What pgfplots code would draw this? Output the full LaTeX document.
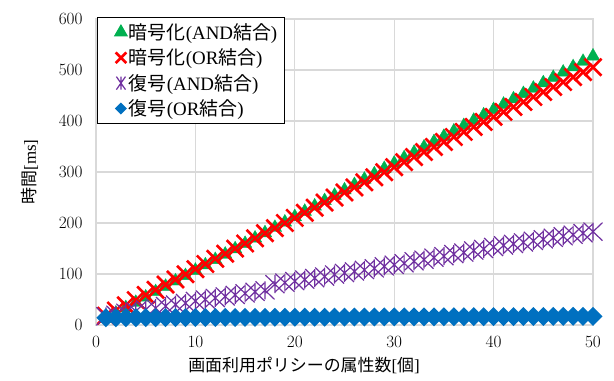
\documentclass[border=0pt]{standalone}
\usepackage{fontspec}
\setmainfont{Liberation Serif}
\newfontfamily\jp{Noto Sans CJK JP}
\usepackage{pgfplots}
\pgfplotsset{compat=1.18}
\usepackage{pgfplotstable}
\definecolor{cg}{HTML}{00B050}
\definecolor{cr}{HTML}{FF0000}
\definecolor{cp}{HTML}{7030A0}
\definecolor{cb}{HTML}{0070C0}
\definecolor{gridc}{HTML}{D9D9D9}
\pgfdeclareplotmark{xstar}{%
  \pgfpathmoveto{\pgfqpoint{-\pgfplotmarksize}{-0.95\pgfplotmarksize}}%
  \pgfpathlineto{\pgfqpoint{\pgfplotmarksize}{0.95\pgfplotmarksize}}%
  \pgfpathmoveto{\pgfqpoint{-\pgfplotmarksize}{0.95\pgfplotmarksize}}%
  \pgfpathlineto{\pgfqpoint{\pgfplotmarksize}{-0.95\pgfplotmarksize}}%
  \pgfpathmoveto{\pgfqpoint{0pt}{-0.95\pgfplotmarksize}}%
  \pgfpathlineto{\pgfqpoint{0pt}{0.95\pgfplotmarksize}}%
  \pgfusepathqstroke}
\pgfdeclareplotmark{xstarleg}{%
  \pgfpathmoveto{\pgfqpoint{-0.7\pgfplotmarksize}{-\pgfplotmarksize}}%
  \pgfpathlineto{\pgfqpoint{0.7\pgfplotmarksize}{\pgfplotmarksize}}%
  \pgfpathmoveto{\pgfqpoint{-0.7\pgfplotmarksize}{\pgfplotmarksize}}%
  \pgfpathlineto{\pgfqpoint{0.7\pgfplotmarksize}{-\pgfplotmarksize}}%
  \pgfpathmoveto{\pgfqpoint{0pt}{-\pgfplotmarksize}}%
  \pgfpathlineto{\pgfqpoint{0pt}{\pgfplotmarksize}}%
  \pgfusepathqstroke}
\pgfdeclareplotmark{dia}{%
  \pgfpathmoveto{\pgfqpoint{0pt}{\pgfplotmarksize}}%
  \pgfpathlineto{\pgfqpoint{\pgfplotmarksize}{0pt}}%
  \pgfpathlineto{\pgfqpoint{0pt}{-\pgfplotmarksize}}%
  \pgfpathlineto{\pgfqpoint{-\pgfplotmarksize}{0pt}}%
  \pgfpathclose
  \pgfusepathqfill}
\pgfplotstableread{
x g r p b
1 12.5 18.2 17 14.1
2 23.0 28.4 20 14.1
3 33.5 38.6 24 14.2
4 44.0 48.7 27 14.2
5 54.5 58.9 30 14.3
6 65.0 69.0 33 14.4
7 75.5 79.2 37 14.4
8 86.0 89.3 40 14.5
9 96.5 99.4 43 14.5
10 107.0 109.5 47 14.6
11 117.5 119.6 50 14.7
12 128.0 129.7 53 14.7
13 138.5 139.8 56 14.8
14 149.0 149.8 59 14.8
15 159.5 159.9 62 14.9
16 170.0 169.9 65 15.0
17 180.5 180.0 68 15.0
18 191.0 190.0 80 15.1
19 201.5 200.0 83 15.1
20 212.0 210.0 86 15.2
21 222.5 220.0 89 15.3
22 233.0 230.0 92 15.3
23 243.5 240.0 95 15.4
24 254.0 249.9 99 15.4
25 264.5 259.9 102 15.5
26 275.0 269.8 105 15.6
27 285.5 279.8 108 15.6
28 296.0 289.7 111 15.7
29 306.5 299.6 115 15.7
30 317.0 309.5 118 15.8
31 327.5 319.4 121 15.9
32 338.0 329.3 125 15.9
33 348.5 339.2 128 16.0
34 359.0 349.0 132 16.0
35 369.5 358.9 135 16.1
36 380.0 368.7 139 16.2
37 390.5 378.6 142 16.2
38 401.0 388.4 146 16.3
39 411.5 398.2 149 16.3
40 422.0 408.0 153 16.4
41 432.5 417.8 156 16.5
42 443.0 427.6 159 16.5
43 453.5 437.4 162 16.6
44 464.0 447.1 165 16.6
45 474.5 456.9 168 16.7
46 485.0 466.6 171 16.8
47 495.5 476.4 174 16.8
48 506.0 486.1 177 16.9
49 516.5 495.8 180 16.9
50 527.0 505.5 183 17.0
}\data
\begin{document}
\begin{tikzpicture}
\begin{axis}[
  scale only axis,
  width=497bp, height=306bp,
  xmin=0, xmax=50, ymin=0, ymax=600,
  xtick={0,10,20,30,40,50},
  ytick={0,100,...,600},
  major tick length=0pt,
  grid=major,
  major grid style={gridc, line width=1.3bp},
  axis line style={gridc, line width=1.3bp},
  tick label style={font=\fontsize{17}{20}\selectfont},
  xticklabel style={yshift=-8bp},
  yticklabel style={xshift=-10bp},
  xlabel={{\jp 画面利用ポリシーの属性数}[{\jp 個}]},
  ylabel={{\jp 時間}[ms]},
  label style={font=\fontsize{17}{20}\selectfont},
  xlabel style={at={([yshift=-40bp]axis description cs:0.4185,0)}, anchor=center},
  ylabel style={at={([xshift=-66bp]axis description cs:0,0.5)}, anchor=center},
  legend image code/.code={%
    \draw[#1] plot coordinates {(0bp,0bp)};
    \path (-17bp,0bp) (3bp,0bp);},
  legend style={at={(0.002,1.0065)}, anchor=north west, draw=black, line width=1.3bp,
    font=\fontsize{19}{22}\selectfont, cells={anchor=west}, row sep=4bp,
    inner xsep=5bp, inner ysep=4bp, fill=white},
  legend cell align=left,
]
\addplot[only marks, mark=triangle*, mark size=7.8bp, color=cg,
  legend image post style={mark size=7bp}] table[x=x,y=g]{\data};
\addlegendentry{{\jp 暗号化}(AND{\jp 結合})}
\addplot[only marks, mark=x, mark size=12bp, color=cr, line width=2.6bp,
  legend image post style={mark size=7.5bp}] table[x=x,y=r]{\data};
\addlegendentry{{\jp 暗号化}(OR{\jp 結合})}
\addplot[only marks, mark=xstar, mark size=9.5bp, color=cp, line width=1.2bp,
  legend image post style={mark=xstarleg, mark size=6.5bp}] table[x=x,y=p]{\data};
\addlegendentry{{\jp 復号}(AND{\jp 結合})}
\addplot[only marks, mark=dia, mark size=9.5bp, color=cb,
  legend image post style={mark size=6bp}] table[x=x,y=b]{\data};
\addlegendentry{{\jp 復号}(OR{\jp 結合})}
\end{axis}
\pgfresetboundingbox
\path ([xshift=-96bp,yshift=-56bp]current axis.south west) rectangle ([xshift=21bp,yshift=19bp]current axis.north east);
\end{tikzpicture}
\end{document}
